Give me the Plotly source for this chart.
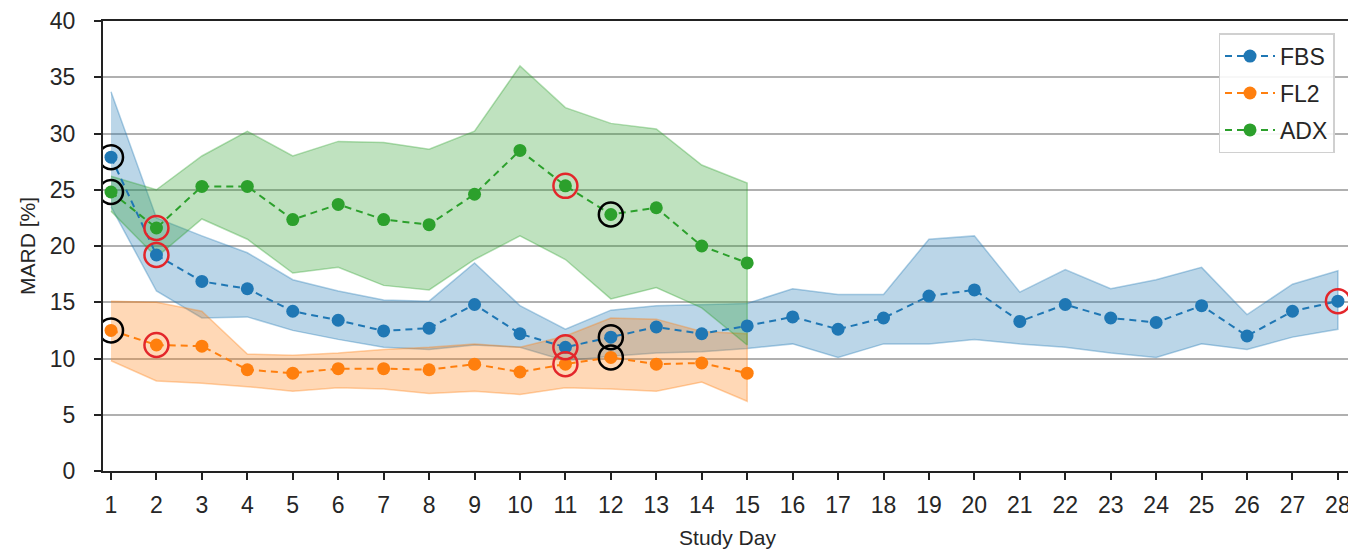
import plotly.graph_objects as go

days = list(range(1, 29))

fbs_mean = [27.9, 19.2, 16.85, 16.2, 14.2, 13.4, 12.45, 12.7, 14.8, 12.2, 11.0, 11.9, 12.8, 12.2,
            12.9, 13.7, 12.6, 13.6, 15.55, 16.1, 13.3, 14.8, 13.6, 13.2, 14.7, 12.0, 14.2, 15.1]
fbs_upper = [33.7, 22.5, 20.9, 19.4, 17.0, 16.0, 15.2, 15.1, 18.5, 14.7, 12.6, 14.3, 14.7, 14.8,
             14.9, 16.2, 15.7, 15.7, 20.6, 20.9, 15.9, 17.9, 16.2, 17.0, 18.1, 13.9, 16.6, 17.8]
fbs_lower = [23.5, 16.0, 13.6, 13.7, 12.5, 11.7, 11.0, 10.8, 11.2, 11.0, 9.8, 10.2, 10.5, 10.6,
             10.9, 11.3, 10.1, 11.3, 11.3, 11.7, 11.3, 11.0, 10.5, 10.1, 11.3, 10.8, 11.9, 12.6]

fl2_mean = [12.5, 11.2, 11.1, 9.0, 8.7, 9.1, 9.1, 9.0, 9.5, 8.8, 9.5, 10.1, 9.5, 9.6, 8.7]
fl2_upper = [15.1, 15.0, 14.2, 10.4, 10.3, 10.5, 10.8, 11.0, 11.3, 11.0, 12.0, 13.6, 13.5, 12.4, 12.2]
fl2_lower = [9.8, 8.0, 7.8, 7.5, 7.1, 7.4, 7.3, 6.9, 7.1, 6.8, 7.4, 7.3, 7.1, 7.9, 6.2]

adx_mean = [24.8, 21.6, 25.3, 25.3, 22.35, 23.7, 22.35, 21.9, 24.6, 28.5, 25.35, 22.8, 23.4, 20.0, 18.5]
adx_upper = [26.2, 25.0, 28.0, 30.2, 28.0, 29.3, 29.2, 28.6, 30.2, 36.0, 32.3, 30.9, 30.4, 27.2, 25.6]
adx_lower = [23.1, 19.0, 22.4, 20.6, 17.6, 18.1, 16.5, 16.1, 18.8, 20.9, 18.8, 15.3, 16.3, 14.5, 11.2]

black_days = [1, 12]
red_days = [2, 11]
fbs_extra_red_days = [28]

y_ticks = [0, 5, 10, 15, 20, 25, 30, 35, 40]

series = [
    ("FBS", fbs_mean, fbs_upper, fbs_lower, "#1f77b4", (31, 119, 180)),
    ("FL2", fl2_mean, fl2_upper, fl2_lower, "#ff7f0e", (255, 127, 14)),
    ("ADX", adx_mean, adx_upper, adx_lower, "#2ca02c", (44, 160, 44)),
]

fig = go.Figure()

# bands
for name, mean, up, lo, col, rgb in series:
    x = days[:len(mean)]
    fig.add_trace(go.Scatter(
        x=x + x[::-1], y=up + lo[::-1], fill="toself",
        fillcolor="rgba(%d,%d,%d,0.3)" % rgb,
        line=dict(color="rgba(%d,%d,%d,0.35)" % rgb, width=1.5),
        hoverinfo="skip", showlegend=False, mode="lines"))

# mean lines
for name, mean, up, lo, col, rgb in series:
    x = days[:len(mean)]
    fig.add_trace(go.Scatter(
        x=x, y=mean, mode="lines+markers", name=name, legendgroup=name,
        line=dict(color=col, width=2, dash="7px,5px"),
        marker=dict(color=col, size=13)))

# highlight circles
for name, mean, up, lo, col, rgb in series:
    bd = [d for d in black_days if d <= len(mean)]
    rd = [d for d in red_days if d <= len(mean)]
    if name == "FBS":
        rd = rd + fbs_extra_red_days
    fig.add_trace(go.Scatter(
        x=bd, y=[mean[d - 1] for d in bd], mode="markers", showlegend=False,
        marker=dict(symbol="circle-open", size=24, color="black", line=dict(width=2.5))))
    fig.add_trace(go.Scatter(
        x=rd, y=[mean[d - 1] for d in rd], mode="markers", showlegend=False,
        marker=dict(symbol="circle-open", size=24, color="#e3262b", line=dict(width=2.5))))

tick_font = dict(family="Liberation Sans, Arial, sans-serif", size=23, color="#262626")
title_font = dict(family="Liberation Sans, Arial, sans-serif", size=21, color="#262626")

# the page body has an 8px margin; size the figure so the plot lands where the reference has it
fig.update_layout(
    width=1348, height=541,
    margin=dict(l=95, r=4, t=13, b=78, autoexpand=False),
    plot_bgcolor="white", paper_bgcolor="white",
    font=tick_font,
    showlegend=True,
    legend=dict(x=0.986, y=0.973, xanchor="right", yanchor="top",
                bgcolor="rgba(255,255,255,0.9)", bordercolor="#d0d0d0", borderwidth=1.5,
                font=dict(family="Liberation Sans, Arial, sans-serif", size=23, color="#262626"),
                itemwidth=50, tracegroupgap=4),
)

fig.update_xaxes(
    range=[0.824, 28.31], tickmode="array", tickvals=days, ticktext=[str(d) for d in days],
    showgrid=False, zeroline=False, automargin=False,
    showline=True, linecolor="#222222", linewidth=2, mirror=True,
    ticks="outside", ticklen=7, tickwidth=2, tickcolor="#222222", tickfont=tick_font,
    ticklabelstandoff=5,
    title=dict(text="Study Day", font=title_font, standoff=18),
)
fig.update_yaxes(
    range=[0, 40], tickmode="array", tickvals=y_ticks,
    showgrid=True, gridcolor="#b0b0b0", gridwidth=2, zeroline=False, automargin=False,
    showline=True, linecolor="#222222", linewidth=2, mirror=True,
    ticks="outside", ticklen=7, tickwidth=2, tickcolor="#222222", tickfont=tick_font,
    ticklabelstandoff=14,
    title=dict(text="MARD [%]", font=title_font, standoff=8),
)

fig.write_html("out.html")
